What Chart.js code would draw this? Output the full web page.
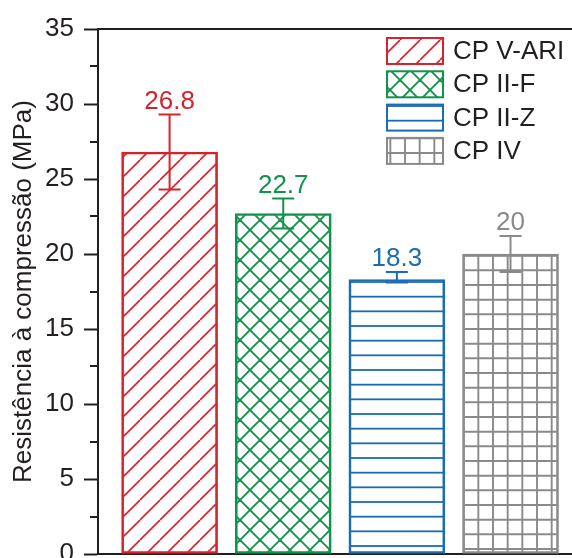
<!DOCTYPE html>
<html>
<head>
<meta charset="utf-8">
<style>
  html, body { margin: 0; padding: 0; background: #fff; }
  canvas { display: block; }
</style>
<script src="https://cdn.jsdelivr.net/npm/chart.js@4.4.1/dist/chart.umd.min.js"></script>
</head>
<body>
<canvas id="chart" width="572" height="558"></canvas>
<script>
// Compressive strength per cement type
const categories = ['CP V-ARI', 'CP II-F', 'CP II-Z', 'CP IV'];
const positions = [1, 2, 3, 4];
const strengths = [26.8, 22.7, 18.3, 20];
const valueLabels = ['26.8', '22.7', '18.3', '20'];
const errUp = [2.5, 1.0, 0.5, 1.2];
const errDown = [2.5, 1.0, 0.2, 1.2];
const yMin = 0, yMax = 35, yStep = 5, yMinorStep = 2.5;

const seriesColors = ['#d3242c', '#11934a', '#1a6db2', '#8a8a8a'];
const axisColor = '#231f20';
const fontFamily = '"Liberation Sans", Arial, sans-serif';

// hatch fills, anchored to the canvas origin
function makePattern(kind, color) {
  const c = document.createElement('canvas');
  const g = c.getContext('2d');
  g.strokeStyle = color;
  if (kind === 'diag' || kind === 'cross') {
    c.width = c.height = 20;
    g.strokeStyle = color;
    g.lineWidth = kind === 'diag' ? 1.6 : 1.9;
    for (const k of [-20, 0, 20]) {
      g.beginPath(); g.moveTo(k, 20); g.lineTo(k + 20, 0); g.stroke();
      if (kind === 'cross') {
        g.beginPath(); g.moveTo(k, 0); g.lineTo(k + 20, 20); g.stroke();
      }
    }
  } else if (kind === 'hline') {
    c.width = 8; c.height = 44;
    g.strokeStyle = color;
    g.lineWidth = 1.8;
    for (const y of [3.33, 18, 32.67]) {
      g.beginPath(); g.moveTo(0, y); g.lineTo(8, y); g.stroke();
    }
  } else {
    c.width = c.height = 44;
    g.strokeStyle = color;
    g.lineWidth = 1.9;
    for (const y of [6.3, 21, 35.7]) {
      g.beginPath(); g.moveTo(0, y); g.lineTo(44, y); g.stroke();
    }
    for (const x of [9, 23.67, 38.33]) {
      g.beginPath(); g.moveTo(x, 0); g.lineTo(x, 44); g.stroke();
    }
  }
  return document.getElementById('chart').getContext('2d').createPattern(c, 'repeat');
}

const kinds = ['diag', 'cross', 'hline', 'grid'];
const patterns = kinds.map((k, i) => makePattern(k, seriesColors[i]));

const datasets = categories.map((name, i) => ({
  label: name,
  data: [{ x: positions[i], y: strengths[i] }],
  backgroundColor: patterns[i],
  borderColor: seriesColors[i],
  borderWidth: 2,
  borderSkipped: false,
  barThickness: 96
}));

// error bars, value labels, minor ticks and the legend box
const extras = {
  id: 'extras',
  afterDatasetsDraw(chart) {
    const ctx = chart.ctx;
    const xs = chart.scales.x;
    const ys = chart.scales.y;
    ctx.save();
    ctx.lineWidth = 2;
    positions.forEach((p, i) => {
      const cx = xs.getPixelForValue(p);
      const yTop = ys.getPixelForValue(strengths[i] + errUp[i]);
      const yBot = ys.getPixelForValue(strengths[i] - errDown[i]);
      ctx.strokeStyle = seriesColors[i];
      ctx.beginPath();
      ctx.moveTo(cx, yTop); ctx.lineTo(cx, yBot);
      ctx.moveTo(cx - 11, yTop); ctx.lineTo(cx + 11, yTop);
      ctx.moveTo(cx - 11, yBot); ctx.lineTo(cx + 11, yBot);
      ctx.stroke();
      ctx.fillStyle = seriesColors[i];
      ctx.font = '26px ' + fontFamily;
      ctx.textAlign = 'center';
      ctx.textBaseline = 'alphabetic';
      ctx.fillText(valueLabels[i], cx, yTop - 6);
    });

    // minor ticks
    ctx.strokeStyle = axisColor;
    ctx.lineWidth = 2;
    for (let v = yMinorStep; v < yMax; v += yStep) {
      const y = Math.round(ys.getPixelForValue(v));
      ctx.beginPath();
      ctx.moveTo(ys.right - 8, y); ctx.lineTo(ys.right, y);
      ctx.stroke();
    }

    // legend
    const lx = 387, ly = 38, bw = 56, bh = 26, gap = 33.3;
    ctx.font = '26px ' + fontFamily;
    ctx.textAlign = 'left';
    ctx.textBaseline = 'middle';
    chart.data.datasets.forEach((ds, i) => {
      const top = ly + i * gap;
      ctx.fillStyle = '#fff';
      ctx.fillRect(lx, top, bw, bh);
      ctx.fillStyle = ds.backgroundColor;
      ctx.fillRect(lx, top, bw, bh);
      ctx.strokeStyle = ds.borderColor;
      ctx.lineWidth = 2;
      ctx.strokeRect(lx, top, bw, bh);
      ctx.fillStyle = axisColor;
      ctx.fillText(ds.label, lx + 66, top + bh / 2 + 1);
    });
    ctx.restore();
  }
};

new Chart(document.getElementById('chart'), {
  type: 'bar',
  data: { datasets },
  options: {
    responsive: false,
    animation: false,
    grouped: false,
    layout: { padding: { top: 29, right: 0, bottom: 0, left: 0 } },
    plugins: {
      legend: { display: false },
      tooltip: { enabled: false }
    },
    scales: {
      x: {
        type: 'linear',
        position: 'bottom',
        min: 0.37,
        max: 4.541,
        offset: false,
        grid: { display: false },
        ticks: { display: false },
        border: { display: true, color: axisColor, width: 2 },
        afterFit: s => { s.height = 4; s.paddingLeft = 0; s.paddingRight = 0; }
      },
      x2: {
        type: 'linear',
        position: 'top',
        min: 0.37,
        max: 4.541,
        grid: { display: false },
        ticks: { display: false },
        border: { display: true, color: axisColor, width: 2 },
        afterFit: s => { s.height = 0; s.paddingLeft = 0; s.paddingRight = 0; }
      },
      y: {
        min: yMin,
        max: yMax,
        grid: {
          drawOnChartArea: false,
          drawTicks: true,
          tickLength: 14,
          tickWidth: 2,
          tickColor: c => (c.tick && c.tick.value % yStep === 0) ? axisColor : 'rgba(0,0,0,0)'
        },
        border: { display: true, color: axisColor, width: 2 },
        ticks: {
          stepSize: yMinorStep,
          autoSkip: false,
          padding: 10,
          color: axisColor,
          font: { family: fontFamily, size: 26 },
          callback: v => (v % yStep === 0 ? v : '')
        },
        title: {
          display: true,
          text: 'Resistência à compressão (MPa)',
          color: axisColor,
          font: { family: fontFamily, size: 26 },
          padding: { top: 8, bottom: 0 }
        },
        afterFit: s => { s.width = 98; s.paddingTop = 0; s.paddingBottom = 0; }
      }
    }
  },
  plugins: [extras]
});
</script>
</body>
</html>
